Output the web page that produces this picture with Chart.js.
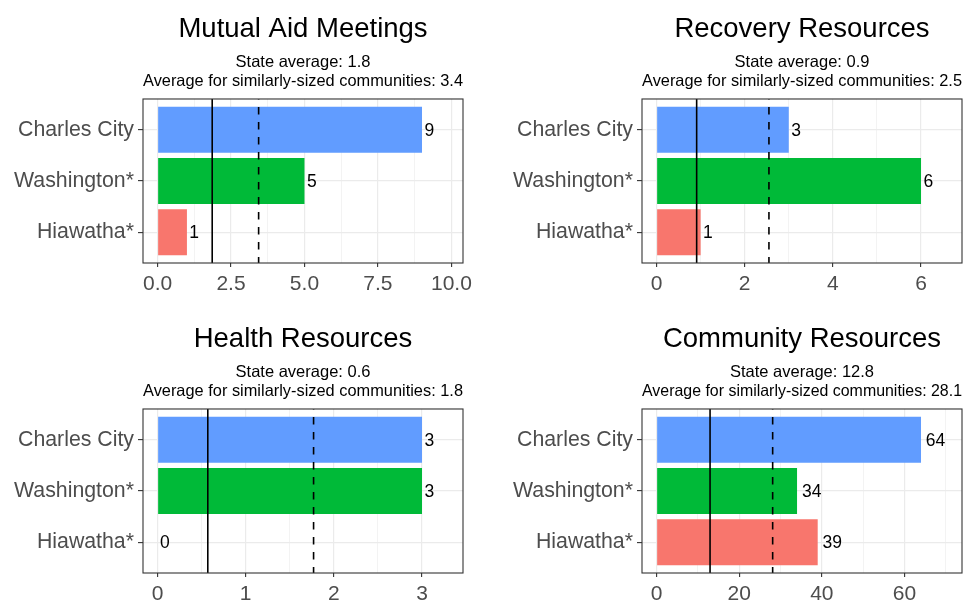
<!DOCTYPE html>
<html>
<head>
<meta charset="utf-8">
<script src="https://cdn.jsdelivr.net/npm/chart.js@4.4.0/dist/chart.umd.min.js"></script>
<style>
html, body { margin: 0; padding: 0; background: #fff; overflow: hidden; width: 968px; height: 601px; }
canvas { position: absolute; }
</style>
</head>
<body>
<canvas id="c1" width="484" height="300" style="left:0;top:0"></canvas>
<canvas id="c2" width="484" height="300" style="left:499px;top:0"></canvas>
<canvas id="c3" width="484" height="300" style="left:0;top:310px"></canvas>
<canvas id="c4" width="484" height="300" style="left:499px;top:310px"></canvas>
<script>
var communities = ['Charles City', 'Washington*', 'Hiawatha*'];
var barColors = ['#619CFF', '#00BA38', '#F8766D'];

var titles = ['Mutual Aid Meetings', 'Recovery Resources', 'Health Resources', 'Community Resources'];
var mutualAid = [9, 5, 1];
var recovery = [3, 6, 1];
var health = [3, 3, 0];
var communityRes = [64, 34, 39];

// shown in the subtitles
var stateAvgText = ['1.8', '0.9', '0.6', '12.8'];
var similarAvgText = ['3.4', '2.5', '1.8', '28.1'];
// where the reference lines sit
var stateAvg = [1.86, 0.91, 0.57, 12.95];
var similarAvg = [3.44, 2.55, 1.77, 28.1];

var xMin = [-0.495, -0.33, -0.165, -3.52];
var xMax = [10.395, 6.93, 3.465, 73.92];
var xTicks = [[0, 2.5, 5, 7.5, 10], [0, 2, 4, 6], [0, 1, 2, 3], [0, 20, 40, 60]];
var xTickLabels = [['0.0', '2.5', '5.0', '7.5', '10.0'], ['0', '2', '4', '6'], ['0', '1', '2', '3'], ['0', '20', '40', '60']];
var xMinorTicks = [[1.25, 3.75, 6.25, 8.75], [1, 3, 5], [0.5, 1.5, 2.5], [10, 30, 50, 70]];

var FONT = '"Liberation Sans", Arial, sans-serif';

function makePanel(id, k, values) {
	var majors = xTicks[k];
	var allTicks = majors.concat(xMinorTicks[k]).sort(function(a, b){ return a - b; });
	var isMajor = function(ctx){ return ctx.tick && majors.indexOf(ctx.tick.value) >= 0; };

	var panelDecor = {
		id: 'panelDecor' + k,
		afterDatasetsDraw: function(chart){
			var c = chart.ctx, a = chart.chartArea, sx = chart.scales.x;
			c.save();
			// value labels at the end of each bar
			var meta = chart.getDatasetMeta(0);
			c.font = '17.5px ' + FONT;
			c.fillStyle = '#000';
			c.textAlign = 'left';
			c.textBaseline = 'middle';
			meta.data.forEach(function(bar, i){
				var txt = String(values[i]);
				var w = c.measureText(txt).width;
				c.fillText(txt, bar.x + 0.25 * w, bar.y + 1);
			});
			// state average (solid) and similar communities (dashed)
			c.strokeStyle = '#000';
			c.lineWidth = 1.6;
			var xs = sx.getPixelForValue(stateAvg[k]);
			c.beginPath(); c.moveTo(xs, a.top); c.lineTo(xs, a.bottom); c.stroke();
			var xd = sx.getPixelForValue(similarAvg[k]);
			c.setLineDash([7.5, 7.5]);
			c.lineDashOffset = 7;
			c.beginPath(); c.moveTo(xd, a.top); c.lineTo(xd, a.bottom); c.stroke();
			c.setLineDash([]);
			// panel border
			c.strokeStyle = '#333333';
			c.lineWidth = 1.1;
			c.strokeRect(a.left, a.top, a.right - a.left, a.bottom - a.top);
			c.restore();
		}
	};

	new Chart(document.getElementById(id), {
		type: 'bar',
		data: {
			datasets: [{
				data: values.map(function(v, i){ return {x: v, y: i}; }),
				backgroundColor: barColors,
				borderWidth: 0,
				barPercentage: 0.9,
				categoryPercentage: 1
			}]
		},
		options: {
			indexAxis: 'y',
			responsive: false,
			animation: false,
			layout: { padding: { left: 0, right: 21, top: 0, bottom: 0 } },
			scales: {
				x: {
					type: 'linear',
					min: xMin[k],
					max: xMax[k],
					afterBuildTicks: function(s){ s.ticks = allTicks.map(function(v){ return {value: v}; }); },
					afterFit: function(s){ s.height = 37; },
					border: { display: false },
					grid: {
						color: '#EBEBEB',
						lineWidth: function(ctx){ return isMajor(ctx) ? 1.2 : 0.6; },
						tickColor: function(ctx){ return isMajor(ctx) ? '#333333' : 'rgba(0,0,0,0)'; },
						tickWidth: 1.1,
						tickLength: 4
					},
					ticks: {
						autoSkip: false,
						maxRotation: 0,
						padding: 4.5,
						color: '#4D4D4D',
						font: { family: FONT, size: 21 },
						callback: function(v){
							var j = majors.indexOf(v);
							return j >= 0 ? xTickLabels[k][j] : '';
						}
					}
				},
				y: {
					type: 'linear',
					reverse: true,
					offset: false,
					min: -0.6,
					max: 2.6,
					afterBuildTicks: function(s){ s.ticks = communities.map(function(n, i){ return {value: i}; }); },
					afterFit: function(s){ s.width = 143; },
					border: { display: false },
					grid: {
						offset: false,
						color: '#EBEBEB',
						lineWidth: 1.2,
						tickColor: '#333333',
						tickWidth: 1.1,
						tickLength: 5
					},
					ticks: {
						padding: 4,
						color: '#4D4D4D',
						font: { family: FONT, size: 21.3 },
						callback: function(v){ return communities[v]; }
					}
				}
			},
			plugins: {
				legend: { display: false },
				tooltip: { enabled: false },
				title: {
					display: true,
					text: titles[k],
					fullSize: false,
					color: '#000',
					font: { family: FONT, size: 27.5, weight: 'normal', lineHeight: 1.2 },
					padding: { top: 12.5, bottom: 0 }
				},
				subtitle: {
					display: true,
					text: ['State average: ' + stateAvgText[k], 'Average for similarly-sized communities: ' + similarAvgText[k]],
					fullSize: false,
					color: '#000',
					font: { family: FONT, size: 16.5, weight: 'normal', lineHeight: 1.127 },
					padding: { top: 7.7, bottom: 8.6 }
				}
			}
		},
		plugins: [panelDecor]
	});
}

makePanel('c1', 0, mutualAid);
makePanel('c2', 1, recovery);
makePanel('c3', 2, health);
makePanel('c4', 3, communityRes);
</script>
</body>
</html>
